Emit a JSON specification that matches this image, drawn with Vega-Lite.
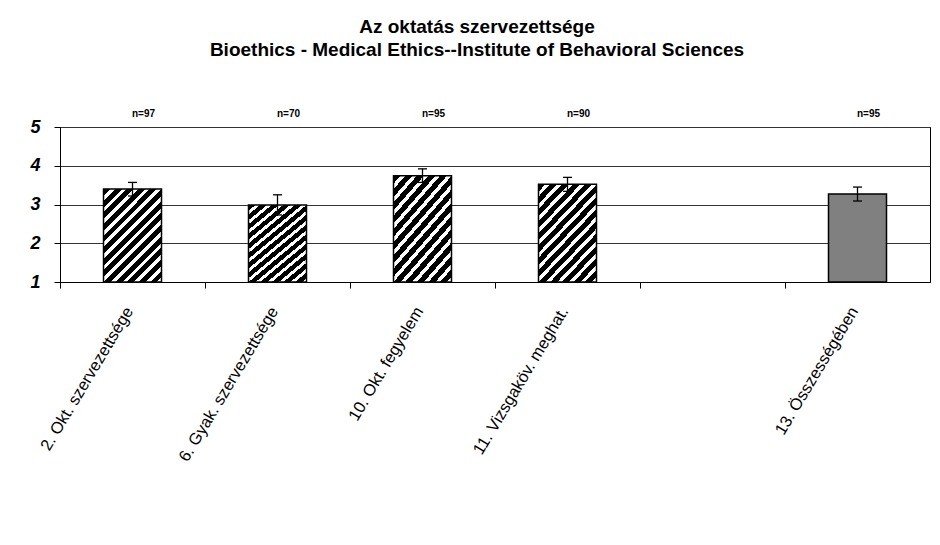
{
  "$schema": "https://vega.github.io/schema/vega-lite/v6.json",
  "width": 870,
  "height": 155,
  "autosize": "none",
  "padding": {"left": 60, "top": 127, "right": 10, "bottom": 263},
  "background": "white",
  "title": {
    "text": ["Az oktatás szervezettsége", "Bioethics - Medical Ethics--Institute of Behavioral Sciences"],
    "anchor": "middle",
    "frame": "group",
    "dx": -18,
    "offset": 49,
    "font": "Liberation Sans",
    "fontSize": 19,
    "fontWeight": "bold",
    "color": "black",
    "lineHeight": 22.7
  },
  "config": {
    "view": {"stroke": "black", "strokeWidth": 1},
    "axis": {"labelFont": "Liberation Sans", "labelColor": "black"},
    "axisY": {"tickCount": 5, "labelOverlap": false}
  },
  "data": {
    "values": [
      {"cat": "2. Okt. szervezettsége", "mean": 3.40, "lo": 3.22, "hi": 3.57, "n": "n=97", "type": "h"},
      {"cat": "6. Gyak. szervezettsége", "mean": 2.99, "lo": 2.73, "hi": 3.25, "n": "n=70", "type": "h"},
      {"cat": "10. Okt. fegyelem", "mean": 3.74, "lo": 3.57, "hi": 3.92, "n": "n=95", "type": "h"},
      {"cat": "11. Vizsgaköv. meghat.", "mean": 3.52, "lo": 3.34, "hi": 3.70, "n": "n=90", "type": "h"},
      {"cat": "13. Összességében", "mean": 3.27, "lo": 3.09, "hi": 3.45, "n": "n=95", "type": "g"}
    ]
  },
  "resolve": {"axis": {"x": "independent"}},
  "layer": [
    {
      "transform": [{"filter": "datum.type == 'h'"}],
      "mark": {
        "type": "bar",
        "width": {"band": 0.4},
        "stroke": "black",
        "strokeWidth": 1.5,
        "fill": {
          "gradient": "linear",
          "x1": 0, "y1": 0, "x2": 0.73, "y2": 1.17,
          "stops": [
            {"offset": 0, "color": "black"}, {"offset": 0.046, "color": "black"}, {"offset": 0.046, "color": "white"}, {"offset": 0.0769, "color": "white"},
            {"offset": 0.0769, "color": "black"}, {"offset": 0.1231, "color": "black"}, {"offset": 0.1231, "color": "white"}, {"offset": 0.1538, "color": "white"},
            {"offset": 0.1538, "color": "black"}, {"offset": 0.2, "color": "black"}, {"offset": 0.2, "color": "white"}, {"offset": 0.2308, "color": "white"},
            {"offset": 0.2308, "color": "black"}, {"offset": 0.2769, "color": "black"}, {"offset": 0.2769, "color": "white"}, {"offset": 0.3077, "color": "white"},
            {"offset": 0.3077, "color": "black"}, {"offset": 0.3538, "color": "black"}, {"offset": 0.3538, "color": "white"}, {"offset": 0.3846, "color": "white"},
            {"offset": 0.3846, "color": "black"}, {"offset": 0.4308, "color": "black"}, {"offset": 0.4308, "color": "white"}, {"offset": 0.4615, "color": "white"},
            {"offset": 0.4615, "color": "black"}, {"offset": 0.5077, "color": "black"}, {"offset": 0.5077, "color": "white"}, {"offset": 0.5385, "color": "white"},
            {"offset": 0.5385, "color": "black"}, {"offset": 0.5846, "color": "black"}, {"offset": 0.5846, "color": "white"}, {"offset": 0.6154, "color": "white"},
            {"offset": 0.6154, "color": "black"}, {"offset": 0.6615, "color": "black"}, {"offset": 0.6615, "color": "white"}, {"offset": 0.6923, "color": "white"},
            {"offset": 0.6923, "color": "black"}, {"offset": 0.7385, "color": "black"}, {"offset": 0.7385, "color": "white"}, {"offset": 0.7692, "color": "white"},
            {"offset": 0.7692, "color": "black"}, {"offset": 0.8154, "color": "black"}, {"offset": 0.8154, "color": "white"}, {"offset": 0.8462, "color": "white"},
            {"offset": 0.8462, "color": "black"}, {"offset": 0.8923, "color": "black"}, {"offset": 0.8923, "color": "white"}, {"offset": 0.9231, "color": "white"},
            {"offset": 0.9231, "color": "black"}, {"offset": 0.9692, "color": "black"}, {"offset": 0.9692, "color": "white"}, {"offset": 1, "color": "white"}
          ]
        }
      },
      "encoding": {
        "x": {
          "field": "cat", "type": "nominal", "sort": null,
          "scale": {"domain": ["2. Okt. szervezettsége", "6. Gyak. szervezettsége", "10. Okt. fegyelem", "11. Vizsgaköv. meghat.", " ", "13. Összességében"], "paddingInner": 0, "paddingOuter": 0},
          "axis": {"title": null, "orient": "bottom", "labelAngle": -59, "labelAlign": "right", "labelBaseline": "middle", "labelFontSize": 16.5, "labelColor": "black", "ticks": false, "tickSize": 0, "domain": false, "grid": false, "labelPadding": 26, "labelLimit": 0, "labelOffset": -3}
        },
        "y": {
          "field": "mean", "type": "quantitative",
          "scale": {"domain": [1, 5], "nice": false, "zero": false},
          "axis": {"title": null, "values": [1, 2, 3, 4, 5], "tickCount": 5, "labelOverlap": false, "labelFontSize": 18, "labelFontWeight": "bold", "labelFontStyle": "italic", "labelColor": "black", "tickSize": 6, "tickColor": "black", "domainColor": "black", "gridColor": "#333333", "gridOpacity": 1, "labelPadding": 14}
        },
        "y2": {"datum": 1}
      }
    },
    {
      "transform": [{"filter": "datum.type == 'g'"}],
      "mark": {"type": "bar", "width": {"band": 0.4}, "fill": "#808080", "stroke": "black", "strokeWidth": 1.5},
      "encoding": {
        "x": {"field": "cat", "type": "nominal", "sort": null, "axis": null},
        "y": {"field": "mean", "type": "quantitative"},
        "y2": {"datum": 1}
      }
    },
    {
      "mark": {"type": "rule", "color": "black", "strokeWidth": 1.3},
      "encoding": {
        "x": {
          "field": "cat", "type": "nominal", "sort": null,
          "axis": {"title": null, "orient": "bottom", "labels": false, "ticks": true, "tickSize": 6, "tickColor": "black", "bandPosition": 0, "domain": true, "domainColor": "black", "grid": false}
        },
        "y": {"field": "lo", "type": "quantitative"},
        "y2": {"field": "hi"}
      }
    },
    {
      "mark": {"type": "tick", "orient": "horizontal", "size": 9, "thickness": 1.3, "color": "black", "opacity": 1},
      "encoding": {
        "x": {"field": "cat", "type": "nominal", "sort": null, "axis": null},
        "y": {"field": "lo", "type": "quantitative"}
      }
    },
    {
      "mark": {"type": "tick", "orient": "horizontal", "size": 9, "thickness": 1.3, "color": "black", "opacity": 1},
      "encoding": {
        "x": {"field": "cat", "type": "nominal", "sort": null, "axis": null},
        "y": {"field": "hi", "type": "quantitative"}
      }
    },
    {
      "mark": {"type": "text", "font": "Liberation Sans", "fontSize": 10, "fontWeight": "bold", "color": "black", "baseline": "alphabetic", "dy": -10, "dx": 11},
      "encoding": {
        "x": {"field": "cat", "type": "nominal", "sort": null, "axis": null},
        "y": {"datum": 5},
        "text": {"field": "n"}
      }
    }
  ]
}
